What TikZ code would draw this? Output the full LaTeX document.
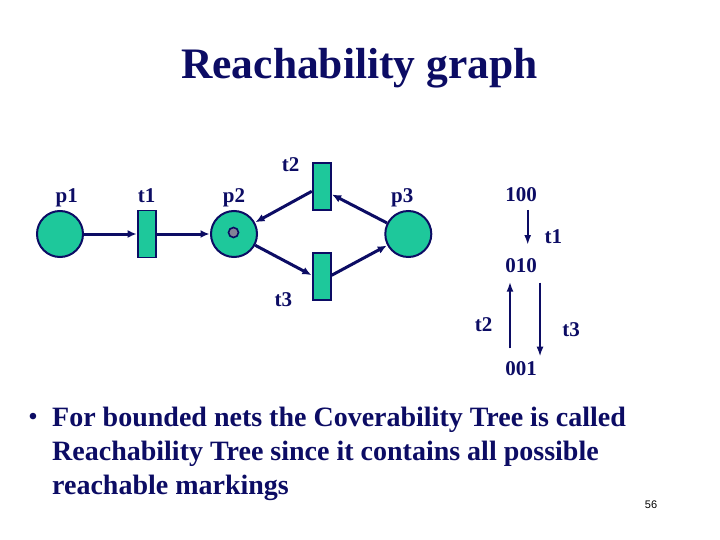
\documentclass[tikz,border=0pt]{standalone}
\usepackage{fontspec}
\setmainfont{Liberation Serif}
\setsansfont{Liberation Sans}
\usetikzlibrary{arrows.meta}
\definecolor{navy}{RGB}{12,12,100}
\definecolor{petri}{RGB}{30,200,155}
\definecolor{tokgray}{RGB}{130,130,150}
\tikzset{
  place/.style={circle,draw=navy,line width=2pt,fill=petri,minimum size=46pt,inner sep=0pt},
  trans/.style={rectangle,draw=navy,line width=1.8pt,fill=petri,minimum width=18pt,minimum height=47pt,inner sep=0pt},
  tok/.style={circle,draw=navy,line width=1.6pt,fill=tokgray,minimum size=10pt,inner sep=0pt},
  lbl/.style={text=navy,font=\fontsize{21}{25}\selectfont\bfseries,anchor=base,inner sep=0pt},
  arr/.style={draw=navy,line width=3pt,-{Latex[length=9pt,width=8pt]},shorten >=0.5pt},
  tarr/.style={draw=navy,line width=2.4pt,-{Latex[length=10pt,width=7pt]}},
  body/.style={text=navy,font=\fontsize{28}{34}\selectfont\bfseries,anchor=base west,inner sep=0pt}
}
\begin{document}
\begin{tikzpicture}[x=1pt,y=-1pt]
\useasboundingbox[fill=white] (0,0) rectangle (720,540);
% title
\node[text=navy,font=\fontsize{43.5}{50}\selectfont\bfseries,anchor=base,inner sep=0pt] (title) at (359.5,79) {Reachability graph};
% petri net
\node[place] (p1) at (60,234) {};
\node[trans] (t1) at (147,234) {};
\node[place] (p2) at (234,234) {};
\node[tok] (tk) at (233.5,232.5) {};
\node[trans] (t2) at (321.7,186.3) {};
\node[trans] (t3) at (321.7,276.3) {};
\node[place] (p3) at (408.3,234) {};
\node[lbl] (lp1) at (66.7,203) {p1};
\node[lbl] (lt1) at (146.7,203) {t1};
\node[lbl] (lp2) at (234,203) {p2};
\node[lbl] (lt2) at (290.7,171.5) {t2};
\node[lbl] (lp3) at (402.3,203) {p3};
\node[lbl] (lt3) at (283.3,306.5) {t3};
\draw[arr] (p1) -- (t1);
\draw[arr] (t1) -- (p2);
\draw[arr] ([yshift=-5pt]t2.west) -- (p2);
\draw[arr] (p3) -- ([yshift=-8pt]t2.east);
\draw[arr] (p2) -- ([yshift=1pt]t3.west);
\draw[arr] ([yshift=1pt]t3.east) -- (p3);
% reachability graph
\node[lbl] (m100) at (521,201.7) {100};
\node[lbl] (m010) at (521,272.7) {010};
\node[lbl] (m001) at (521,375) {001};
\node[lbl] (g1) at (553.3,243.3) {t1};
\node[lbl] (g2) at (483.5,331) {t2};
\node[lbl] (g3) at (571,336) {t3};
\coordinate (a1s) at (527.7,210);
\coordinate (a1e) at (527.7,245);
\coordinate (a2s) at (510,348.3);
\coordinate (a2e) at (510,281.7);
\coordinate (a3s) at (540,282.7);
\coordinate (a3e) at (540,356.7);
\draw[tarr] (a1s) -- (a1e);
\draw[tarr] (a2s) -- (a2e);
\draw[tarr] (a3s) -- (a3e);
% bullet text
\node[text=navy,font=\fontsize{24}{28}\selectfont\bfseries,inner sep=0pt] (bul) at (33,419) {•};
\node[body] (l1) at (52,426) {For bounded nets the Coverability Tree is called};
\node[body] (l2) at (52,460) {Reachability Tree since it contains all possible};
\node[body] (l3) at (52,494) {reachable markings};
\node[font=\sffamily\fontsize{11}{13}\selectfont,inner sep=0pt] (pg) at (651,505) {56};
\end{tikzpicture}
\end{document}
